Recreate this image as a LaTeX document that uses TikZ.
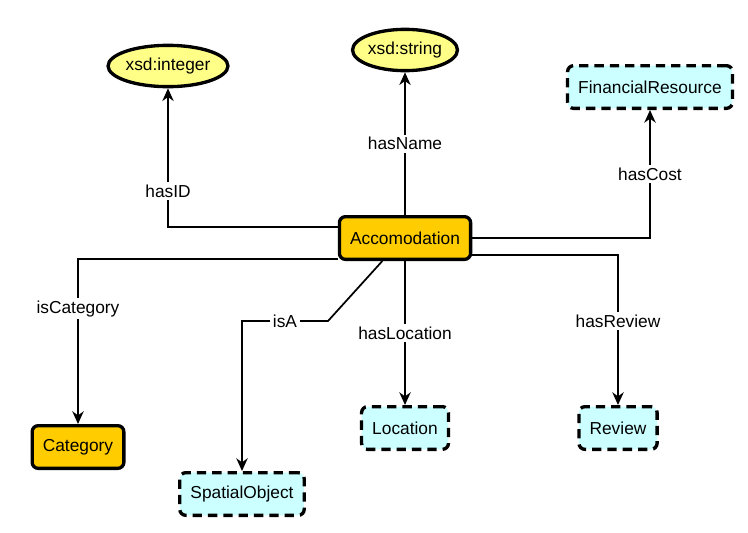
\documentclass[tikz,border=0pt]{standalone}
\usepackage{fontspec}
\setmainfont{Liberation Sans}
\usetikzlibrary{shapes.geometric}
\usetikzlibrary{arrows.meta}
\usetikzlibrary{positioning}

\definecolor{accorange}{HTML}{FFCC00}
\definecolor{extcyan}{HTML}{CCFFFF}
\definecolor{lityellow}{HTML}{FFFF88}

\begin{document}
\begin{tikzpicture}[
    x=0.75pt, y=-0.75pt,
    font=\fontsize{13}{15}\selectfont
]
\tikzset{
    classnode/.style = {rectangle, rounded corners=4.5pt, draw=black, line width=2.5pt, fill=accorange, minimum height=32pt, inner xsep=8pt},
    extnode/.style = {classnode, dash pattern=on 7pt off 4.5pt, fill=extcyan},
    datanode/.style = {ellipse, draw=black, line width=2.5pt, fill=lityellow, inner sep=0pt, minimum height=31pt},
    reledge/.style = {-{Stealth[length=9.5pt,width=8.5pt,inset=3pt]}, line width=1.3pt},
    rellabel/.style = {fill=white, inner sep=2pt}
}
\useasboundingbox (0,0) rectangle (748,532);
% classes
\node[classnode] at (405,238) (acc) {Accomodation};
\node[classnode] at (78,447) (cat) {Category};
\node[extnode] at (242,494) (spa) {SpatialObject};
\node[extnode] at (405,428) (loc) {Location};
\node[extnode] at (618,428) (rev) {Review};
\node[extnode] at (650,87) (fin) {FinancialResource};
% datatypes
\node[datanode, minimum width=80pt] at (168,66) (int) {xsd:integer};
\node[datanode, minimum width=73pt] at (405,50) (str) {xsd:string};
% relations
\draw[reledge] ([yshift=8pt]acc.west) -| node[rellabel, pos=0.63] {hasID} (int);
\draw[reledge] (acc) -- node[rellabel] {hasName} (str);
\draw[reledge] (acc.east) -| node[rellabel, pos=0.75] {hasCost} (fin);
\draw[reledge] ([yshift=-16pt]acc.west) -| node[rellabel, pos=0.65] {isCategory} (cat);
\coordinate (isabend) at (328,321);
\draw[reledge] ([xshift=-17pt]acc.south) -- (isabend) -- node[rellabel] {isA} (isabend -| spa) -- (spa);
\draw[reledge] (acc) -- node[rellabel] {hasLocation} (loc);
\draw[reledge] ([yshift=-13pt]acc.east) -| node[rellabel, pos=0.72] {hasReview} (rev);
\end{tikzpicture}
\end{document}
